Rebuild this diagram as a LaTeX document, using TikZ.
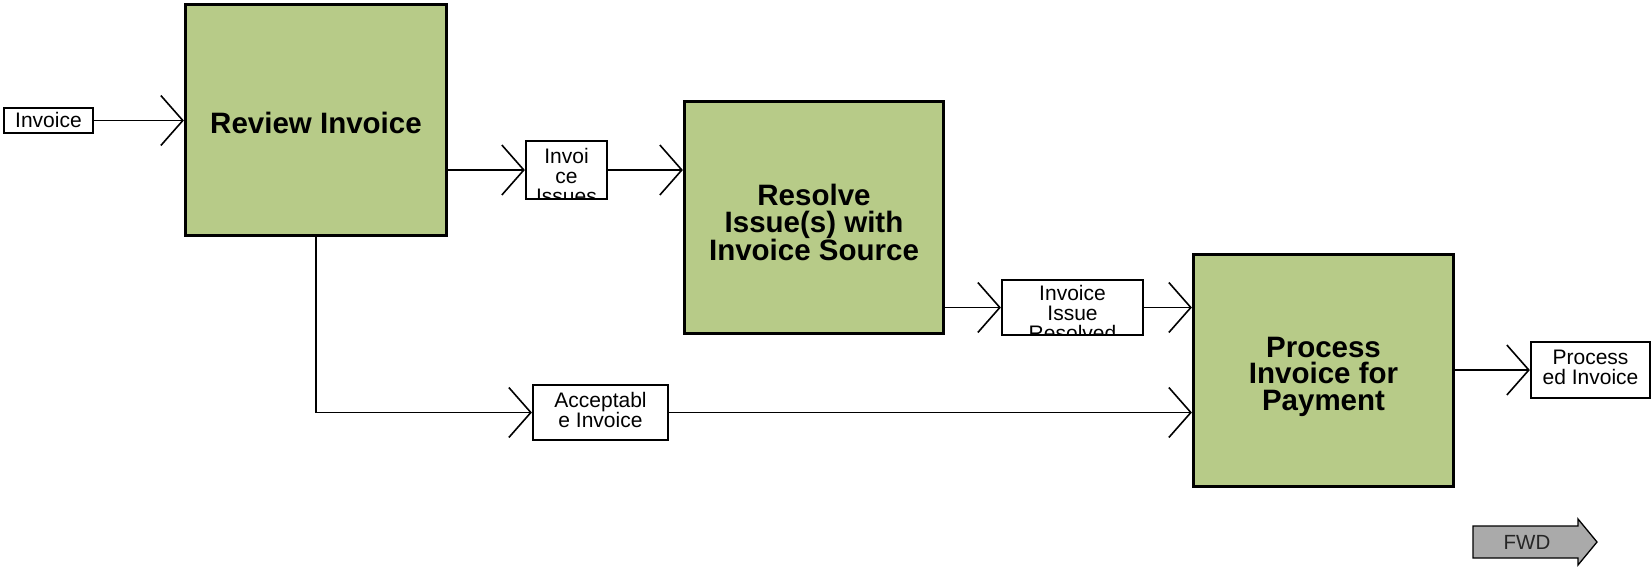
\documentclass[tikz,border=0pt]{standalone}
\usepackage{fontspec}
\setmainfont{Liberation Sans}
\usetikzlibrary{arrows.meta}
\definecolor{boxgreen}{RGB}{183,203,136}
\definecolor{fwdgray}{RGB}{170,170,170}
\begin{document}
\begin{tikzpicture}[x=1pt,y=-1pt,
  bigbox/.style={draw=black, line width=3.2pt, fill=boxgreen, inner sep=0pt},
  bigtext/.style={inner sep=0pt, align=center, font=\fontsize{29.5}{26.5}\selectfont\bfseries},
  smallbox/.style={draw=black, line width=2.2pt, fill=white, inner sep=0pt},
  smalltext/.style={inner sep=0pt, align=center, font=\fontsize{21}{20}\selectfont},
  flow/.style={line width=1.6pt, -{Straight Barb[length=22pt,width=50pt]}},
  fwdshape/.style={draw=black, line width=1.3pt, fill=fwdgray},
  fwdtext/.style={inner sep=0pt, font=\fontsize{20.5}{20.5}\selectfont, text=black!85}]
\useasboundingbox (0,0) rectangle (1652,566);

% process boxes
\node[bigbox, minimum width=261pt, minimum height=231pt,
  path picture={\node[bigtext] at ([yshift=-3pt]path picture bounding box.center) {Review Invoice};}]
  (review) at (316,120) {};
\node[bigbox, minimum width=259pt, minimum height=232pt,
  path picture={\node[bigtext] at ([yshift=-5pt]path picture bounding box.center) {Resolve\\Issue(s) with\\Invoice Source};}]
  (resolve) at (814,217.5) {};
\node[bigbox, minimum width=260pt, minimum height=232pt,
  path picture={\node[bigtext] at ([yshift=-6pt]path picture bounding box.center) {Process\\Invoice for\\Payment};}]
  (process) at (1323.5,370.5) {};

% data boxes
\node[smallbox, minimum width=89pt, minimum height=25pt,
  path picture={\node[smalltext] at ([yshift=1pt]path picture bounding box.center) {Invoice};}]
  (invoice) at (48.5,120.5) {};
\node[smallbox, minimum width=81pt, minimum height=58pt,
  path picture={\node[smalltext, anchor=north] at ([yshift=-4.5pt]path picture bounding box.north) {Invoi\\ce\\Issues};}]
  (issues) at (566.5,170) {};
\node[smallbox, minimum width=141pt, minimum height=55pt,
  path picture={\node[smalltext, anchor=north] at ([yshift=-4.5pt]path picture bounding box.north) {Invoice\\Issue\\Resolved};}]
  (resolved) at (1072.5,307.5) {};
\node[smallbox, minimum width=135pt, minimum height=55pt,
  path picture={\node[smalltext] at ([yshift=3pt]path picture bounding box.center) {Acceptabl\\e Invoice};}]
  (acceptable) at (600.5,412.5) {};
\node[smallbox, minimum width=119pt, minimum height=56pt,
  path picture={\node[smalltext] at ([yshift=3pt]path picture bounding box.center) {Process\\ed Invoice};}]
  (processed) at (1590.5,370) {};

% connectors
\draw[flow] (invoice.east) -- (invoice.east -| review.west);
\draw[flow] (review.east |- issues.west) -- (issues.west);
\draw[flow] (issues.east) -- (issues.east -| resolve.west);
\draw[flow] (resolve.east |- resolved.west) -- (resolved.west);
\draw[flow] (resolved.east) -- (resolved.east -| process.west);
\draw[flow] (review.south) |- (acceptable.west);
\draw[flow] (acceptable.east) -- (acceptable.east -| process.west);
\draw[flow] (process.east |- processed.west) -- (processed.west);

% FWD arrow
\draw[fwdshape] (1473,526) -- (1578,526) -- (1578,519) -- (1597,542) -- (1578,565) -- (1578,558) -- (1473,558) -- cycle;
\node[fwdtext] (fwd) at (1527,542) {FWD};
\end{tikzpicture}
\end{document}
